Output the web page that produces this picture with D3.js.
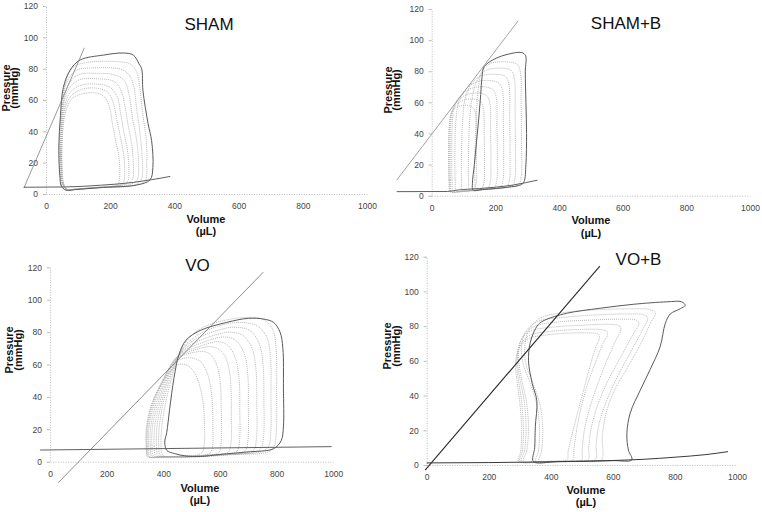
<!DOCTYPE html>
<html><head><meta charset="utf-8">
<script src="https://cdn.jsdelivr.net/npm/d3@7"></script>
<style>body{margin:0;background:#fff}svg{display:block}text{font-family:"Liberation Sans",Arial,sans-serif}</style>
</head><body><svg id="c" width="762" height="512"></svg>
<script>
// ---------- data ----------
const volumeTicks = [0, 200, 400, 600, 800, 1000];
const pressureTicks = [0, 20, 40, 60, 80, 100, 120];
const panelTitles = ["SHAM", "SHAM+B", "VO", "VO+B"];
const xTitle = ["Volume", "(\u00b5L)"];
const yTitle = ["Pressure", "(mmHg)"];

// SHAM: [volume, pressure]
const shamSolid = [[62,2.5],[48,5],[43,12],[40,30],[45,50],[54,68],[75,79],[106,85.5],[180,88.7],[241,90],[272,88.7],[290,83],[298,80],[302,66],[318,45],[329,34],[333,17],[324,9],[282,5.7],[180,4.2],[100,3]];
const shamDotted = [
  [[60,2.5],[48,6],[43,20],[44,40],[50,58],[62,72],[85,81],[130,84],[220,84.5],[262,83],[282,78],[292,68],[302,50],[312,35],[314,20],[308,8],[270,5.5],[160,4],[90,3]],
  [[62,3],[50,7],[45,20],[46,40],[52,58],[66,72],[95,79],[150,80.5],[225,80],[255,77],[272,70],[282,55],[292,40],[299,25],[298,10],[280,6],[160,4],[90,3]],
  [[63,3],[51,7],[46,20],[47,40],[54,58],[70,70],[100,76],[160,77],[215,76],[245,72],[260,62],[270,48],[282,35],[288,20],[284,9],[260,6],[150,4],[90,3]],
  [[64,3],[52,7],[47,20],[48,40],[56,58],[74,68],[105,73],[165,73.5],[210,72],[232,67],[245,57],[255,45],[266,33],[272,20],[268,9],[245,6],[150,4],[90,3]],
  [[64,3],[53,7],[48,20],[50,40],[58,56],[76,65],[110,69.5],[165,70],[200,68],[222,62],[232,52],[242,40],[252,30],[258,18],[254,8],[230,5.5],[150,4],[90,3]],
  [[65,3],[54,7],[49,20],[51,40],[60,55],[80,63],[115,67],[160,67.5],[192,65],[210,58],[220,48],[230,38],[240,28],[245,16],[240,7],[215,5],[140,4],[90,3]],
  [[66,3],[55,7],[50,20],[52,40],[62,53],[82,61],[115,64],[155,64.5],[182,62],[198,55],[207,45],[216,35],[226,25],[230,14],[224,6],[200,5],[140,4],[90,3]]
];
const shamEspvr = [[-69,3.8],[119.5,93.3]];
const shamEdpvr = [[-69,4.3],[60,4.5],[170,5.6],[272,7.4],[387,11.2]];

// SHAM+B
const shamBSolid = [[130,3.5],[128,8],[134,20],[141,35],[148,50],[154,65],[158,76],[165,83],[199,88],[241,91],[283,92],[295,90],[294,80],[296,60],[298,40],[296,20],[290,9],[280,7],[240,5.5],[199,4.6],[160,4]];
const shamBDotted = [
  [[140,3.8],[136,10],[136,30],[140,50],[146,68],[158,80],[185,85],[235,86],[268,84.5],[279,79],[281,60],[282,35],[281,12],[272,7],[220,5],[170,4.2]],
  [[120,3.5],[116,10],[116,30],[120,50],[128,64],[145,75],[170,80.5],[215,82],[250,80.5],[260,75],[262,55],[263,30],[262,12],[254,6.5],[200,4.6],[150,3.8]],
  [[98,3],[94,10],[94,30],[97,48],[105,62],[125,72],[155,77],[200,78],[233,76.5],[243,71],[245,50],[246,28],[244,10],[236,6],[180,4.3],[130,3.5]],
  [[78,2.8],[74,10],[73,30],[76,48],[85,60],[105,68],[140,73],[185,74],[213,72],[223,67],[225,48],[226,26],[224,10],[216,5.5],[160,4],[110,3]],
  [[68,2.5],[64,10],[63,30],[65,48],[72,58],[90,64],[125,69],[165,70],[193,68],[203,63],[205,45],[206,25],[204,9],[196,5],[140,3.6],[95,2.8]],
  [[63,2.5],[59,10],[58,30],[60,48],[67,56],[82,61],[110,65],[150,66],[174,64],[183,59],[185,42],[186,22],[184,9],[176,4.8],[130,3.4],[85,2.6]],
  [[60,2.5],[56,10],[55,30],[57,47],[63,54],[76,58],[100,61.5],[135,62],[155,60],[163,55],[165,40],[166,20],[164,8],[156,4.5],[115,3.2],[80,2.6]],
  [[58,2.5],[54,10],[53,30],[55,45],[60,52],[72,56],[95,58],[115,58],[132,56],[139,51],[140,36],[141,18],[139,7],[130,4],[100,3],[75,2.5]]
];
const shamBEspvr = [[-110,10],[272,112.5]];
const shamBEdpvr = [[-110,2.6],[50,2.7],[79,3.6],[150,4.6],[257,6.9],[332,10]];

// VO
const voSolid = [[412,7],[405,12],[412,18],[422,32],[438,52],[455,66],[480,75],[530,81],[624,86],[700,88.5],[755,88],[789,86],[812,80],[822,70],[824,45],[824,22],[816,13],[789,8],[695,6],[600,4.5],[530,3.2],[480,3.5],[440,5]];
const voDotted = [
  [[398,4],[392,10],[395,22],[410,38],[430,52],[452,64],[480,74],[530,82],[610,87],[690,89],[750,88],[785,82],[798,70],[800,45],[799,20],[792,10],[770,6],[650,4.5],[520,3],[450,3]],
  [[390,4],[384,10],[386,22],[402,38],[425,52],[450,64],[478,72],[530,79],[600,84],[670,86],[730,84],[765,77],[778,65],[780,40],[779,18],[770,9],[740,6],[620,4.5],[500,3],[440,3]],
  [[382,3.8],[376,10],[378,22],[396,38],[420,52],[450,64],[478,71],[530,77],[600,81.5],[650,83],[705,81],[738,73],[752,60],[755,38],[754,16],[744,8],[710,5.5],[600,4],[490,3],[430,3]],
  [[374,3.6],[368,10],[370,22],[390,38],[416,52],[448,64],[478,70],[530,75],[590,78.5],[630,80],[680,78],[713,70],[727,57],[730,36],[729,15],[720,7.5],[690,5.5],[590,4],[480,3],[420,3]],
  [[366,3.4],[360,10],[362,22],[384,38],[412,52],[446,64],[478,69],[530,73],[580,76],[615,77],[655,75],[685,67],[698,54],[700,34],[699,14],[690,7],[660,5],[570,4],[470,3],[410,3]],
  [[360,3.2],[354,10],[356,22],[378,38],[408,52],[444,64],[478,68],[525,71],[570,73.5],[600,74],[630,71.5],[656,63],[668,50],[670,32],[669,13],[660,6.5],[630,5],[550,4],[460,3],[400,3]],
  [[354,3],[348,10],[350,22],[372,38],[404,52],[442,63.5],[478,67],[520,69.5],[560,71],[590,70],[615,66],[632,57],[639,45],[640,28],[639,12],[630,6],[600,4.5],[530,3.8],[450,3],[395,3]],
  [[350,3],[344,10],[346,22],[368,38],[400,51],[440,62.5],[475,66],[510,67.5],[545,68],[570,65.5],[590,59],[601,49],[604,36],[605,22],[603,10],[595,5.5],[565,4.2],[500,3.5],[430,3],[390,3]],
  [[347,3],[341,10],[343,22],[365,38],[398,50],[435,60],[465,63.5],[500,64],[530,62],[552,56],[566,47],[573,36],[575,22],[574,10],[566,5.5],[540,4],[480,3.5],[420,3],[385,3]],
  [[345,3],[339,10],[341,22],[362,37],[394,48],[425,56],[455,60],[485,59.5],[510,55],[528,47],[540,37],[545,25],[545,12],[538,6],[515,4],[470,3.5],[415,3],[380,3]]
];
const voEspvr = [[29,-13],[753,117]];
const voEdpvr = [[-35,7.2],[994,9.3]];

// VO+B
const voBSolid = [[344,2],[348,10],[350,22],[355,37],[340,47],[328,60],[333,70],[344,76],[360,81],[381,83.5],[451,87.4],[559,90.3],[667,92.6],[774,94],[822,94],[833,92],[817,90],[785,87],[769,81.6],[752,68],[720,55],[688,43],[656,30],[645,18],[650,8.6],[661,3],[600,2.5],[500,2.2],[420,2]];
const voBDotted = [
  [[362,2],[370,8],[374,20],[366,34],[345,46],[320,58],[316,68],[330,78],[365,84.5],[450,88],[560,89.5],[660,90],[720,89.5],[737,87.5],[722,82],[690,70],[650,57],[608,44],[578,30],[566,16],[563,3],[500,2.2],[420,2]],
  [[352,2],[360,8],[364,20],[356,34],[334,47],[310,59],[306,69],[320,77],[355,82.5],[440,85],[550,86.5],[650,87],[700,86.5],[712,84.5],[696,78],[660,66],[618,52],[582,38],[556,24],[546,12],[543,3],[480,2.2],[400,2]],
  [[312,2],[322,8],[328,20],[322,36],[305,50],[296,61],[300,70],[318,76],[350,80],[430,82.5],[530,83.5],[630,84],[675,83.5],[684,81.5],[664,75],[628,63],[588,50],[552,35],[531,22],[522,10],[520,3],[460,2.2],[380,2]],
  [[305,2],[315,8],[320,20],[315,36],[300,50],[292,60],[296,68],[312,74],[340,77.5],[410,79.5],[500,80.5],[590,81],[622,80],[626,78],[610,72],[580,60],[550,46],[524,32],[508,20],[501,8],[499,3],[440,2.2],[370,2]],
  [[300,2],[308,8],[312,20],[306,36],[295,50],[290,59],[295,66],[310,71.5],[335,75],[400,77],[480,78],[560,78],[580,77],[583,75],[568,70],[546,60],[521,48],[499,34],[483,20],[474,8],[471,3],[420,2.2],[360,2]],
  [[296,2],[303,8],[306,20],[300,36],[290,50],[286,58],[291,64],[306,69.5],[330,73],[390,75],[460,76],[530,76],[553,75.5],[557,73.5],[545,68],[528,58],[510,46],[489,32],[469,18],[456,8],[452,3],[400,2.2],[350,2]]
];
const voBEspvr = [[-5,-2.9],[558,114.6]];
const voBEdpvr = [[0,1.2],[200,1.4],[400,1.8],[600,2.6],[700,3.3],[800,4.5],[900,6],[971,7.7]];

// ---------- layout (pixels) ----------
const layouts = [
  {x0:46,  x1:367,   y0:194,   y1:6,     title:[209,30],  yl:[9.5,18,88],   xl:[206,223,235], espColor:"#808080", espW:0.8, edColor:"#606060"},
  {x0:431.7,x1:750,  y0:195.7, y1:9,     title:[626,29],  yl:[391.5,400,90], xl:[591,224,237], espColor:"#8a8a8a", espW:0.8, edColor:"#606060"},
  {x0:50,  x1:333.3, y0:461.7, y1:267.3, title:[197.5,271],yl:[13,21.5,350], xl:[200,492,504], espColor:"#707070", espW:0.8, edColor:"#606060"},
  {x0:426.7,x1:737,  y0:465,   y1:256.7, title:[638.5,265],yl:[391,399.5,346],xl:[586,494,506], espColor:"#2a2a2a", espW:1.1, edColor:"#3a3a3a"}
];
const panelData = [
  {solid:shamSolid, dotted:shamDotted, espvr:shamEspvr, edpvr:shamEdpvr},
  {solid:shamBSolid, dotted:shamBDotted, espvr:shamBEspvr, edpvr:shamBEdpvr},
  {solid:voSolid, dotted:voDotted, espvr:voEspvr, edpvr:voEdpvr},
  {solid:voBSolid, dotted:voBDotted, espvr:voBEspvr, edpvr:voBEdpvr}
];

const svg = d3.select("#c");
panelData.forEach((pd, i) => {
  const L = layouts[i];
  const x = d3.scaleLinear().domain([0, 1000]).range([L.x0, L.x1]);
  const y = d3.scaleLinear().domain([0, 120]).range([L.y0, L.y1]);
  const g = svg.append("g");

  const xAxis = d3.axisBottom(x).tickValues(volumeTicks).tickFormat(d3.format("d")).tickSize(0).tickPadding(9);
  const yAxis = d3.axisLeft(y).tickValues(pressureTicks).tickFormat(d3.format("d")).tickSize(3).tickPadding(5);
  const gx = g.append("g").attr("transform", `translate(0,${L.y0})`).call(xAxis);
  const gy = g.append("g").attr("transform", `translate(${L.x0},0)`).call(yAxis);
  [gx, gy].forEach(a => {
    a.select(".domain").attr("stroke", "#bdbdbd").attr("stroke-width", 1).attr("stroke-dasharray", "1,1.5");
    a.selectAll(".tick line").attr("stroke", "#bdbdbd");
    a.selectAll(".tick text").attr("fill", "#444").style("font-size", "8.5px").style("font-family", "'Liberation Sans',Arial,sans-serif");
  });

  const line = d3.line().x(d => x(d[0])).y(d => y(d[1]));
  const loop = d3.line().x(d => x(d[0])).y(d => y(d[1])).curve(d3.curveCatmullRomClosed.alpha(0.5));
  const smooth = d3.line().x(d => x(d[0])).y(d => y(d[1])).curve(d3.curveMonotoneX);

  pd.dotted.forEach(lp => {
    g.append("path").attr("d", loop(lp)).attr("fill", "none")
      .attr("stroke", "#a6a6a6").attr("stroke-width", 0.8).attr("stroke-dasharray", "1,1");
  });
  g.append("path").attr("d", loop(pd.solid)).attr("fill", "none")
    .attr("stroke", "#5a5a5a").attr("stroke-width", 1);
  g.append("path").attr("d", line(pd.espvr)).attr("fill", "none")
    .attr("stroke", L.espColor).attr("stroke-width", L.espW);
  g.append("path").attr("d", smooth(pd.edpvr)).attr("fill", "none")
    .attr("stroke", L.edColor).attr("stroke-width", 1);

  g.append("text").attr("x", L.title[0]).attr("y", L.title[1]).attr("text-anchor", "middle")
    .style("font-size", "17px").attr("fill", "#111").text(panelTitles[i]);
  yTitle.forEach((t, k) => {
    g.append("text").attr("transform", `translate(${L.yl[k]},${L.yl[2]}) rotate(-90)`)
      .attr("text-anchor", "middle").style("font-size", "11px").style("font-weight", "bold")
      .attr("fill", "#111").text(t);
  });
  xTitle.forEach((t, k) => {
    g.append("text").attr("x", L.xl[0]).attr("y", L.xl[1 + k]).attr("text-anchor", "middle")
      .style("font-size", "11px").style("font-weight", "bold").attr("fill", "#111").text(t);
  });
});
</script></body></html>
